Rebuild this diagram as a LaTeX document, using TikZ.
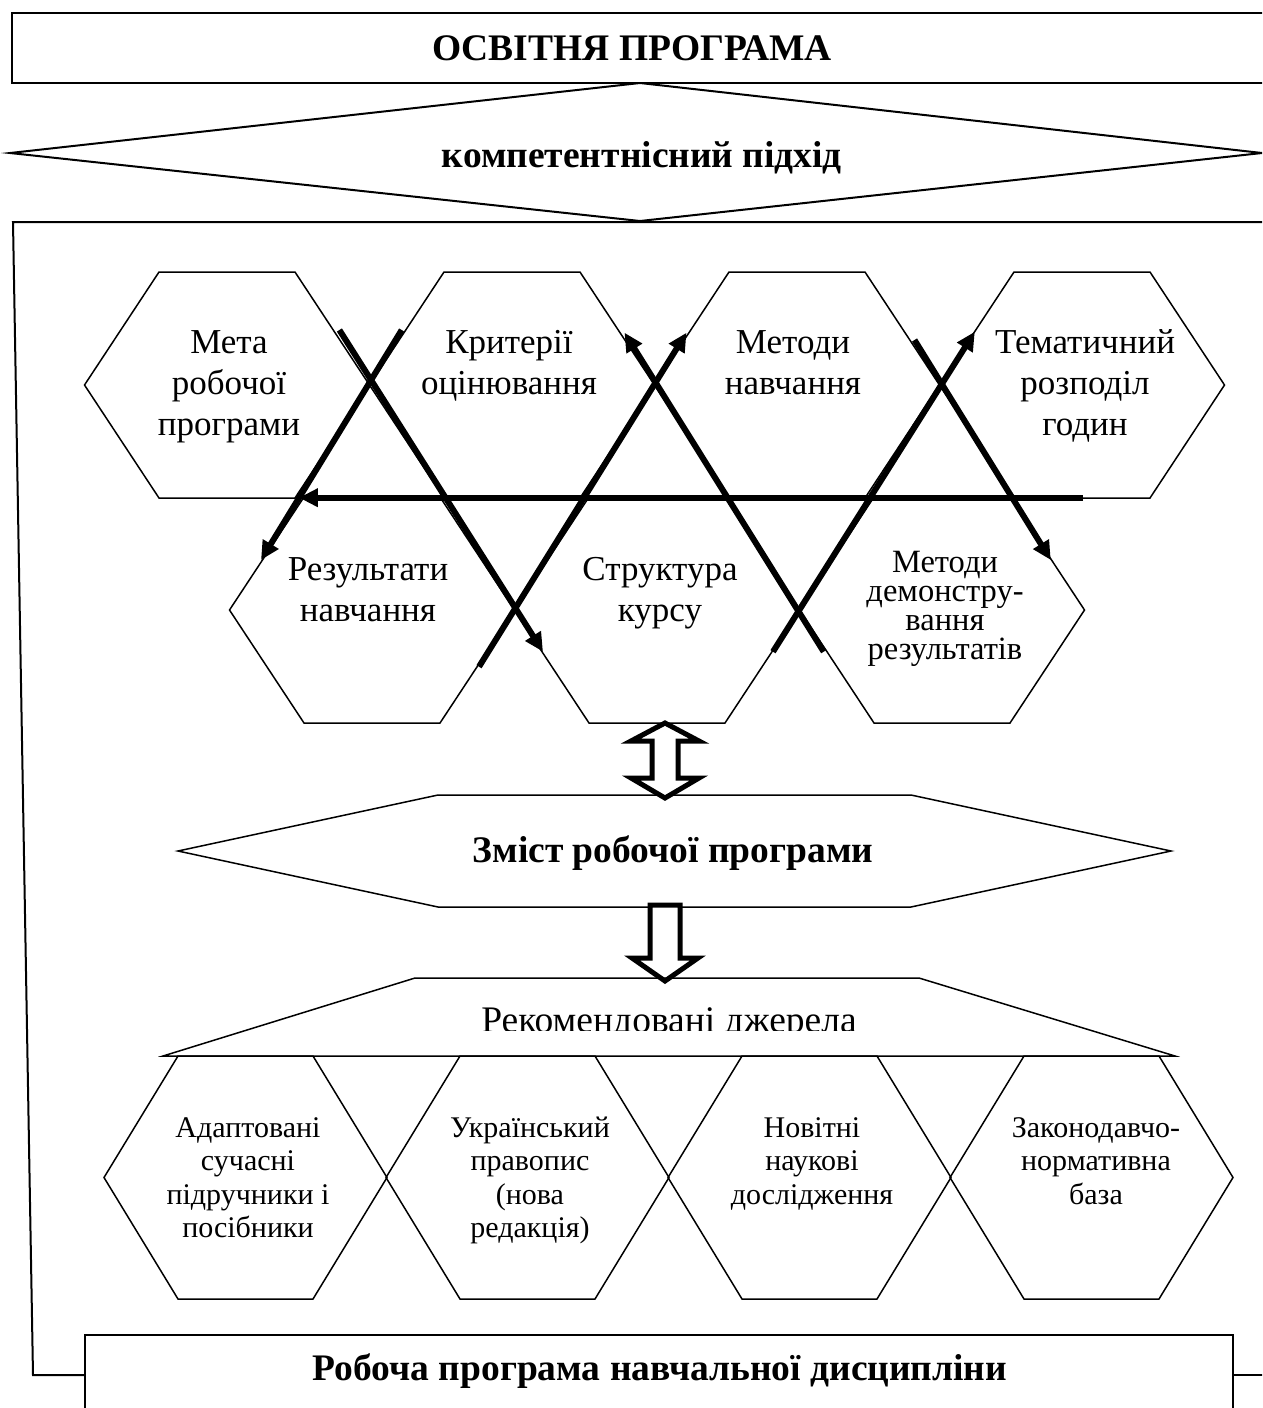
\documentclass[tikz,border=0pt]{standalone}
\usepackage{fontspec}
\setmainfont{Liberation Serif}
\usetikzlibrary{arrows.meta}

% centred multi-line label: lines set exactly one \baselineskip apart,
% baseline of the whole label is that of its first line
\newcommand\stack[1]{\vtop{\lineskiplimit=-100pt\relax\let\\\cr
  \halign{\hfil##\hfil\cr#1\crcr}}}
% hexagon with pointed left/right ends: centre x, centre y, half width, half top edge, half height
\newcommand\hexcell[5]{%
  \draw[thinline] (#1-#3,#2) -- (#1-#4,#2-#5) -- (#1+#4,#2-#5) -- (#1+#3,#2)
    -- (#1+#4,#2+#5) -- (#1-#4,#2+#5) -- cycle;}

\tikzset{
  thinline/.style={line width=0.6pt, line join=miter},
  frameline/.style={line width=0.8pt, line join=miter},
  flow/.style={line width=2.4pt, -{Triangle[length=7.5pt,width=7pt]}},
  blockarrow/.style={line width=2pt, fill=white, line join=miter},
  title/.style={anchor=base, inner sep=0, font=\fontsize{15}{18}\selectfont\bfseries},
  biglabel/.style={anchor=base, inner sep=0, font=\fontsize{14}{16.4}\selectfont},
  midlabel/.style={anchor=base, inner sep=0, font=\fontsize{13}{11.7}\selectfont},
  smalllabel/.style={anchor=base, inner sep=0, font=\fontsize{12}{13.4}\selectfont},
  sourcelabel/.style={anchor=base, inner sep=0, font=\fontsize{15}{18}\selectfont},
}

\begin{document}
\begin{tikzpicture}[x=0.4pt, y=-0.4pt]
\useasboundingbox (0,0) rectangle (1262,1408);
\clip (0,0) rectangle (1262,1408);

% educational programme and the approach
\draw[frameline] (12,13) rectangle (1280,83);
\node[title] (op) at (632,60) {ОСВІТНЯ ПРОГРАМА};
\draw[frameline] (10,153) -- (640,83) -- (1262,153) -- (640,221) -- cycle;
\node[title] (kp) at (642,167) {компетентнісний підхід};

% outer frame of the working programme
\draw[frameline] (1280,222) -- (13,222) -- (33,1375) -- (85,1375);
\draw[frameline] (1233,1375) -- (1280,1375);
\draw[frameline] (85,1335) rectangle (1233,1420);
\node[title] (rp) at (660,1380) {Робоча програма навчальної дисципліни};

% honeycomb of programme components
\hexcell{227}{385}{142.5}{68}{113}
\hexcell{512}{385}{142.5}{68}{113}
\hexcell{797}{385}{142.5}{68}{113}
\hexcell{1082}{385}{142.5}{68}{113}
\hexcell{372}{610}{142.5}{68}{113}
\hexcell{657}{610}{142.5}{68}{113}
\hexcell{942}{610}{142.5}{68}{113}

\node[biglabel] (meta) at (229,353) {\stack{Мета\\робочої\\програми}};
\node[biglabel] (krit) at (509,353) {\stack{Критерії\\оцінювання}};
\node[biglabel] (metn) at (793,353) {\stack{Методи\\навчання}};
\node[biglabel] (tema) at (1085,353) {\stack{Тематичний\\розподіл\\годин}};
\node[biglabel] (rezn) at (368,580) {\stack{Результати\\навчання}};
\node[biglabel] (strk) at (660,580) {\stack{Структура\\курсу}};
\node[midlabel] (metd) at (945,572) {\stack{Методи\\демонстру-\\вання\\результатів}};

% links between the components
\coordinate (a1) at (339.4,330);   \coordinate (a2) at (543,651.7);
\coordinate (b1) at (401.7,330);   \coordinate (b2) at (261,560);
\coordinate (c1) at (479,666.7);   \coordinate (c2) at (686.5,332.7);
\coordinate (d1) at (823.7,651.7); \coordinate (d2) at (624.5,332.7);
\coordinate (e1) at (773,651.7);   \coordinate (e2) at (974.8,331.7);
\coordinate (f1) at (914.5,340);   \coordinate (f2) at (1050.8,560);
\coordinate (g1) at (1083,497.7);  \coordinate (g2) at (299,497.7);
\draw[flow] (a1) -- (a2);
\draw[flow] (b1) -- (b2);
\draw[flow] (c1) -- (c2);
\draw[flow] (d1) -- (d2);
\draw[flow] (e1) -- (e2);
\draw[flow] (f1) -- (f2);
\draw[flow] (g1) -- (g2);

% content of the programme
\draw[thinline] (178,851) -- (438,795) -- (911,795) -- (1171,851) -- (911,907) -- (438,907) -- cycle;
\node[title] (zm) at (673,862) {Зміст робочої програми};
\draw[blockarrow] (665,723) -- (699,741) -- (678,741) -- (678,778) -- (699,778) -- (665,798)
  -- (631,778) -- (652,778) -- (652,741) -- (631,741) -- cycle;
\draw[blockarrow] (650,905) -- (680,905) -- (680,958) -- (698,958) -- (665,981) -- (632,958)
  -- (650,958) -- cycle;

% recommended sources
\draw[thinline] (163,1056) -- (415,978) -- (919,978) -- (1175,1056) -- cycle;
\begin{scope}
  \clip (163,978) rectangle (1175,1030);
  \node[sourcelabel] (rd) at (669,1032) {Рекомендовані джерела};
\end{scope}

\hexcell{245.5}{1177.5}{141.5}{67.5}{121.5}
\hexcell{527.5}{1177.5}{141.5}{67.5}{121.5}
\hexcell{809.5}{1177.5}{141.5}{67.5}{121.5}
\hexcell{1091.5}{1177.5}{141.5}{67.5}{121.5}

\node[smalllabel] (s1) at (248,1137) {\stack{Адаптовані\\сучасні\\підручники і\\посібники}};
\node[smalllabel] (s2) at (530,1137) {\stack{Український\\правопис\\(нова\\редакція)}};
\node[smalllabel] (s3) at (812,1137) {\stack{Новітні\\наукові\\дослідження}};
\node[smalllabel] (s4) at (1096,1137) {\stack{Законодавчо-\\нормативна\\база}};
\end{tikzpicture}
\end{document}
